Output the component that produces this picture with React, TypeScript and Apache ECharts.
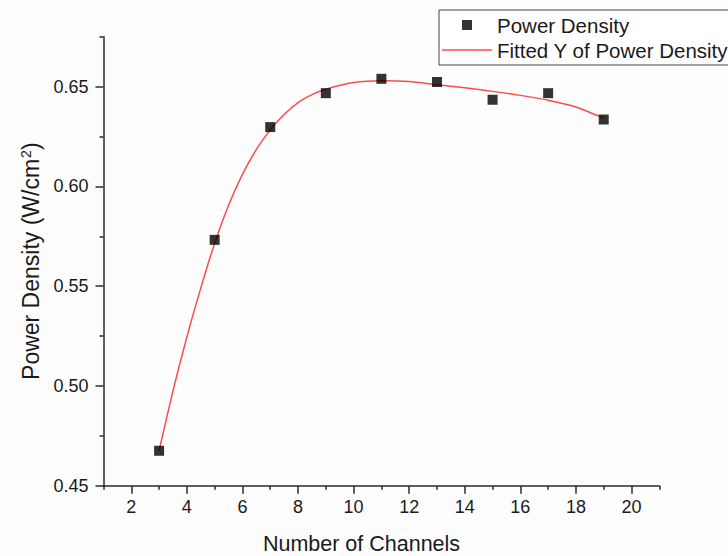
import React, { useEffect, useRef } from 'react';
import * as echarts from 'echarts';

// Measured data
const CHANNELS = [3, 5, 7, 9, 11, 13, 15, 17, 19];
const POWER_DENSITY = [0.4675, 0.5732, 0.6297, 0.6467, 0.6539, 0.6523, 0.6434, 0.6467, 0.6335];

// Fitted curve
const FIT_X = [3, 3.5, 4, 4.5, 5, 5.5, 6, 6.5, 7, 7.5, 8, 8.5, 9, 10, 11, 12, 13, 14, 15, 16, 17, 18, 19];
const FIT_Y = [0.4675, 0.4975, 0.5245, 0.549, 0.5715, 0.5905, 0.606, 0.6185, 0.6283, 0.636, 0.642, 0.646, 0.6487, 0.652, 0.6529, 0.6525, 0.6509, 0.6494, 0.6476, 0.6456, 0.6432, 0.6398, 0.6342];

// Tick positions
const X_MAJOR_TICKS = [2, 4, 6, 8, 10, 12, 14, 16, 18, 20];
const X_MINOR_TICKS = [1, 3, 5, 7, 9, 11, 13, 15, 17, 19, 21];
const Y_MAJOR_TICKS = [0.45, 0.5, 0.55, 0.6, 0.65];
const Y_MINOR_TICKS = [0.475, 0.525, 0.575, 0.625, 0.675];

const SERIES_POINTS = 'Power Density';
const SERIES_FIT = 'Fitted Y of Power Density';
const X_TITLE = 'Number of Channels';

const FONT = '"Liberation Sans", Arial, Helvetica, sans-serif';
const AXIS_COLOR = '#2a2a2a';
const TEXT_COLOR = '#1a1a1a';
const FIT_COLOR = '#ff4a4a';

export default function App() {
  const ref = useRef<HTMLDivElement>(null);

  useEffect(() => {
    if (!ref.current) return;
    const chart = echarts.init(ref.current, undefined, { renderer: 'svg' });
    const tickStyle = { color: AXIS_COLOR, width: 1.5 };
    const option: any = {
      animation: false,
      backgroundColor: '#fdfdfd',
      textStyle: { fontFamily: FONT },
      grid: { left: 103.5, top: 36.7, right: 68.7, bottom: 70.3, containLabel: false },
      legend: {
        orient: 'vertical',
        left: 439,
        top: 10,
        padding: [4, 12, 4, 3],
        itemGap: 3,
        itemWidth: 50,
        itemHeight: 10,
        borderColor: '#444',
        borderWidth: 1,
        backgroundColor: '#ffffff',
        textStyle: { fontSize: 20.5, lineHeight: 22, color: TEXT_COLOR, fontFamily: FONT },
        data: [
          { name: SERIES_POINTS, icon: 'path://M0 0H10V10H0Z' },
          { name: SERIES_FIT, icon: 'path://M0 0H50V1.5H0Z', itemStyle: { color: FIT_COLOR } },
        ],
      },
      xAxis: [
        {
          type: 'value',
          min: 1,
          max: 21,
          position: 'bottom',
          axisLine: { show: true, onZero: false, lineStyle: tickStyle },
          axisTick: { show: true, customValues: X_MAJOR_TICKS, length: 8, lineStyle: tickStyle },
          axisLabel: {
            customValues: X_MAJOR_TICKS,
            margin: 12,
            fontSize: 18,
            color: TEXT_COLOR,
            fontFamily: FONT,
          },
          splitLine: { show: false },
        },
        {
          type: 'value',
          min: 1,
          max: 21,
          position: 'bottom',
          axisLine: { show: false, onZero: false },
          axisTick: { show: true, customValues: X_MINOR_TICKS, length: 4, lineStyle: tickStyle },
          axisLabel: { show: false },
          splitLine: { show: false },
        },
      ],
      yAxis: [
        {
          type: 'value',
          min: 0.45,
          max: 0.675,
          position: 'left',
          name: '{t|Power Density (W/cm}{s|2}{t|)}',
          nameLocation: 'middle',
          nameRotate: 90,
          nameGap: 57,
          nameTextStyle: {
            color: TEXT_COLOR,
            fontFamily: FONT,
            rich: {
              t: { fontSize: 23, fontFamily: FONT, color: TEXT_COLOR, lineHeight: 25 },
              s: { fontSize: 14, fontFamily: FONT, color: TEXT_COLOR, verticalAlign: 'top', lineHeight: 25, padding: [0, 0, 0, 1] },
            },
          },
          axisLine: { show: true, onZero: false, lineStyle: tickStyle },
          axisTick: { show: true, customValues: Y_MAJOR_TICKS, length: 8, lineStyle: tickStyle },
          axisLabel: {
            customValues: Y_MAJOR_TICKS,
            margin: 15,
            fontSize: 18,
            color: TEXT_COLOR,
            fontFamily: FONT,
            formatter: (v: number) => v.toFixed(2),
          },
          splitLine: { show: false },
        },
        {
          type: 'value',
          min: 0.45,
          max: 0.675,
          position: 'left',
          axisLine: { show: false, onZero: false },
          axisTick: { show: true, customValues: Y_MINOR_TICKS, length: 4, lineStyle: tickStyle },
          axisLabel: { show: false },
          splitLine: { show: false },
        },
      ],
      graphic: [
        {
          type: 'text',
          x: 361.5,
          y: 544,
          style: {
            text: X_TITLE,
            fontSize: 21.5,
            fontFamily: FONT,
            fill: TEXT_COLOR,
            align: 'center',
            verticalAlign: 'middle',
          },
        },
      ],
      series: [
        {
          name: SERIES_FIT,
          type: 'line',
          xAxisIndex: 0,
          yAxisIndex: 0,
          data: FIT_X.map((x, i) => [x, FIT_Y[i]]),
          smooth: 0.25,
          symbol: 'none',
          lineStyle: { color: FIT_COLOR, width: 1.5 },
          itemStyle: { color: FIT_COLOR },
          z: 2,
        },
        {
          name: SERIES_POINTS,
          type: 'scatter',
          xAxisIndex: 0,
          yAxisIndex: 0,
          data: CHANNELS.map((x, i) => [x, POWER_DENSITY[i]]),
          symbol: 'rect',
          symbolSize: 10,
          itemStyle: { color: '#000000' },
          z: 3,
        },
      ],
    };
    chart.setOption(option);
    return () => chart.dispose();
  }, []);

  return (
    <div
      ref={ref}
      style={{ position: 'fixed', left: 0, top: 0, width: 728, height: 556 }}
    />
  );
}
